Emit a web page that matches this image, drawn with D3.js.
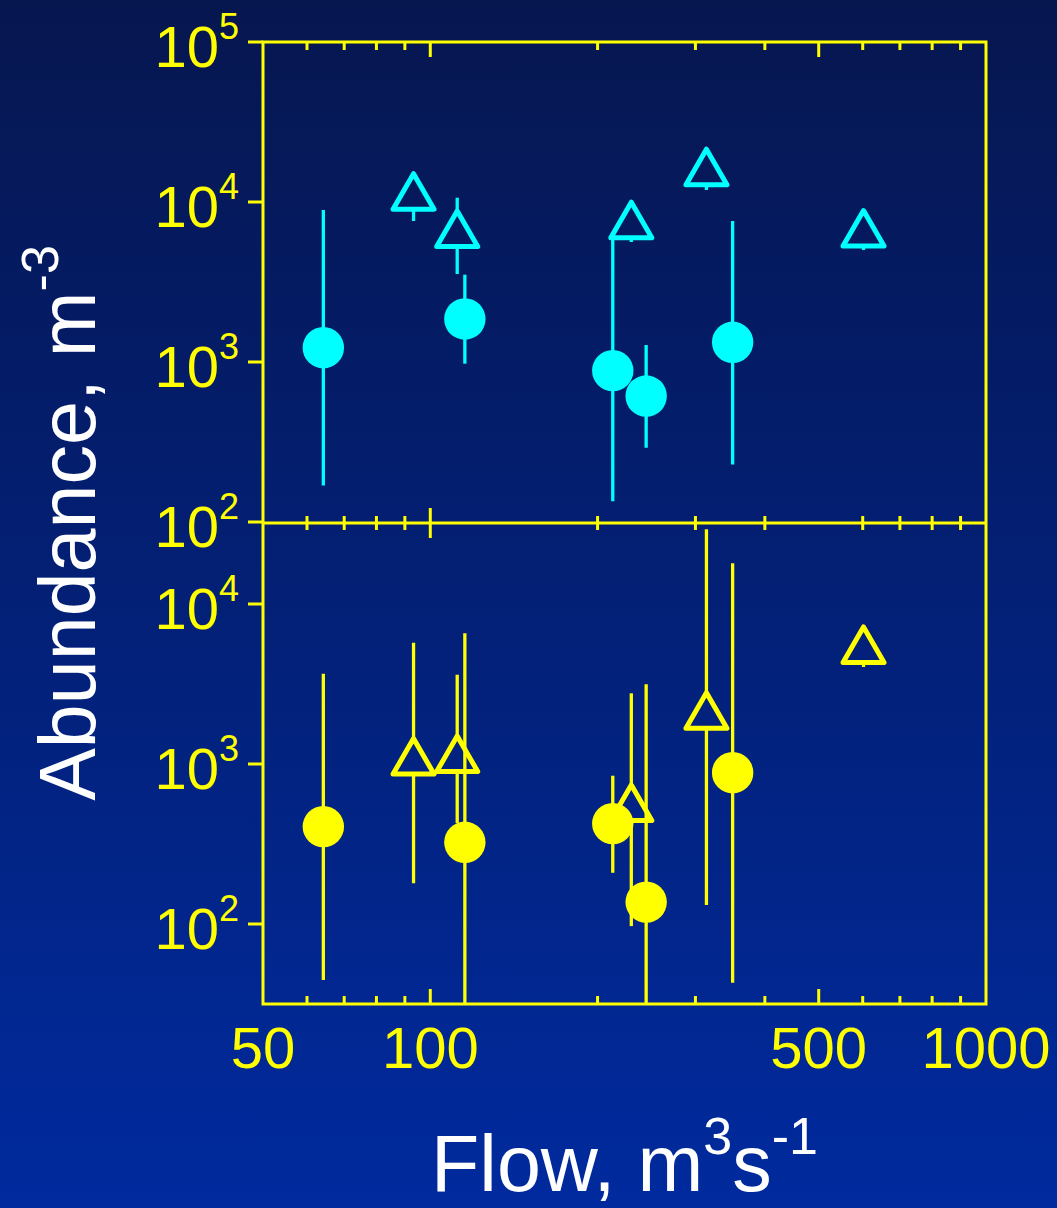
<!DOCTYPE html>
<html>
<head>
<meta charset="utf-8">
<script src="https://cdn.jsdelivr.net/npm/d3@7"></script>
<style>
  html, body { margin: 0; padding: 0; background: #021f78; }
  svg { display: block; }
  text { font-family: "Liberation Sans", Arial, sans-serif; }
</style>
</head>
<body>
<svg id="chart" width="1057" height="1208"></svg>
<script>
// Flow (m3 s-1) at each sampling occasion
const circleFlow   = [64.2, 115.4, 213, 244.6, 350];
const triangleFlow = [93.3, 111.8, 230, 314, 602];

// Upper panel (cyan): abundance, m-3, with error-bar limits
const topCircleValue = [1228, 1857, 883, 613, 1328];
const topCircleLow   = [169, 976, 135, 291, 229];
const topCircleHigh  = [8913, 3513, 5788, 1277, 7607];

const topTriangleValue = [11650, 6800, 7718, 16550, 6847];
const topTriangleLow   = [7607, 3548, 5623, 11885, 5012];
const topTriangleHigh  = [13500, 10640, 9000, 18000, 7500];

// Lower panel (yellow)
const bottomCircleValue = [406, 324, 424, 137, 882];
const bottomCircleLow   = [44.7, 30, 209, 30, 43];
const bottomCircleHigh  = [3666, 6560, 845, 3148, 17960];

const bottomTriangleValue = [1117, 1158, 572, 2160, 5566];
const bottomTriangleLow   = [180, 428, 97, 131.5, 4040];
const bottomTriangleHigh  = [5728, 3614, 2767, 29300, 6000];

// Axis ticks and labels
const xMinorTicks = [60, 70, 80, 90, 200, 300, 400, 600, 700, 800, 900];
const xEdgeMajorTicks = [100, 500];
const xMiddleMajorTicks = [100];
const xTickLabels = [50, 100, 500, 1000];
const topExponents = [5, 4, 3, 2];
const bottomExponents = [4, 3, 2];

const YELLOW = "#ffff00", CYAN = "#00ffff", WHITE = "#ffffff";

const svg = d3.select("#chart");
const defs = svg.append("defs");
const grad = defs.append("linearGradient")
  .attr("id", "bg").attr("gradientUnits", "userSpaceOnUse")
  .attr("x1", 0).attr("y1", 0).attr("x2", 0).attr("y2", 1208);
grad.append("stop").attr("offset", "0").attr("stop-color", "#06164f");
grad.append("stop").attr("offset", "1").attr("stop-color", "#002a9e");

svg.append("rect").attr("width", 1057).attr("height", 1208).attr("fill", "url(#bg)");

const x = d3.scaleLog().domain([50, 1000]).range([263, 986]);
const yTop = d3.scaleLog().domain([1e2, 1e5]).range([522, 42]).clamp(true);
const yBottom = d3.scaleLog().domain([Math.pow(10, 1.5), Math.pow(10, 4.5)]).range([1004, 524]).clamp(true);

const L = x.range()[0], R = x.range()[1];
const TOP = yTop.range()[1], MID = 523, BOT = yBottom.range()[0];

// Frame
const axes = svg.append("g").attr("stroke", YELLOW).attr("stroke-width", 3).attr("fill", "none");
axes.append("rect").attr("x", L).attr("y", TOP).attr("width", R - L).attr("height", BOT - TOP);
axes.append("line").attr("x1", L).attr("x2", R).attr("y1", MID).attr("y2", MID);

// X ticks: inward on top and bottom edges, crossing on the shared middle line
function xTicks(values, y1, y2) {
  axes.append("g").selectAll("line").data(values).join("line")
    .attr("x1", d => x(d)).attr("x2", d => x(d))
    .attr("y1", y1).attr("y2", y2);
}
xTicks(xMinorTicks, TOP, TOP + 8);
xTicks(xEdgeMajorTicks, TOP, TOP + 15);
xTicks(xMinorTicks, BOT, BOT - 8);
xTicks(xEdgeMajorTicks, BOT, BOT - 15);
xTicks(xMinorTicks, MID - 7, MID + 7);
xTicks(xMiddleMajorTicks, MID - 15, MID + 15);

// Y ticks: outward on the left
function yTicks(scale, exps) {
  axes.append("g").selectAll("line").data(exps).join("line")
    .attr("x1", L - 15).attr("x2", L)
    .attr("y1", e => scale(Math.pow(10, e))).attr("y2", e => scale(Math.pow(10, e)));
}
yTicks(yTop, topExponents);
yTicks(yBottom, bottomExponents);

// Y tick labels as powers of ten
function yLabels(scale, exps) {
  const t = svg.append("g").selectAll("text").data(exps).join("text")
    .attr("x", 239).attr("y", e => scale(Math.pow(10, e)) + 25)
    .attr("text-anchor", "end").attr("fill", YELLOW).attr("font-size", 58);
  t.append("tspan").text("10");
  t.append("tspan").attr("dy", -28).attr("font-size", 36).text(e => e);
}
yLabels(yTop, topExponents);
yLabels(yBottom, bottomExponents);

// X tick labels
svg.append("g").selectAll("text").data(xTickLabels).join("text")
  .attr("x", d => x(d)).attr("y", 1068)
  .attr("text-anchor", "middle").attr("fill", YELLOW).attr("font-size", 58)
  .text(d => d);

// Axis titles
const xt = svg.append("text").attr("x", (L + R) / 2).attr("y", 1191)
  .attr("text-anchor", "middle").attr("fill", WHITE).attr("font-size", 79);
xt.append("tspan").text("Flow, m");
xt.append("tspan").attr("dy", -37).attr("font-size", 52).text("3");
xt.append("tspan").attr("dy", 37).text("s");
xt.append("tspan").attr("dy", -37).attr("font-size", 52).text("-1");

const yt = svg.append("text").attr("transform", `translate(95,${MID}) rotate(-90)`)
  .attr("text-anchor", "middle").attr("fill", WHITE).attr("font-size", 79);
yt.append("tspan").text("Abundance, m");
yt.append("tspan").attr("dy", -37).attr("font-size", 52).text("-3");

// Data marks
function rows(flow, value, low, high) {
  return flow.map((f, i) => ({ f, v: value[i], lo: low[i], hi: high[i] }));
}
// Upward triangle in page coordinates, so the background gradient fill lines up
function triangle(cx, cy) {
  const s = 41, h = s * Math.sqrt(3) / 2;
  return `M${cx},${cy - h / 2}L${cx + s / 2},${cy + h / 2}L${cx - s / 2},${cy + h / 2}Z`;
}

function drawPanel(scale, color, circles, triangles) {
  const g = svg.append("g");
  // triangle series: bars then open triangles filled with the background
  g.append("g").selectAll("line").data(triangles).join("line")
    .attr("x1", d => x(d.f)).attr("x2", d => x(d.f))
    .attr("y1", d => scale(d.hi)).attr("y2", d => scale(d.lo))
    .attr("stroke", color).attr("stroke-width", 3.3);
  g.append("g").selectAll("path").data(triangles).join("path")
    .attr("d", d => triangle(x(d.f), scale(d.v)))
    .attr("fill", "url(#bg)").attr("stroke", color)
    .attr("stroke-width", 5).attr("stroke-linejoin", "round");
  // circle series on top
  g.append("g").selectAll("line").data(circles).join("line")
    .attr("x1", d => x(d.f)).attr("x2", d => x(d.f))
    .attr("y1", d => scale(d.hi)).attr("y2", d => scale(d.lo))
    .attr("stroke", color).attr("stroke-width", 3.3);
  g.append("g").selectAll("circle").data(circles).join("circle")
    .attr("cx", d => x(d.f)).attr("cy", d => scale(d.v)).attr("r", 20.7)
    .attr("fill", color);
}

drawPanel(yTop, CYAN,
  rows(circleFlow, topCircleValue, topCircleLow, topCircleHigh),
  rows(triangleFlow, topTriangleValue, topTriangleLow, topTriangleHigh));
drawPanel(yBottom, YELLOW,
  rows(circleFlow, bottomCircleValue, bottomCircleLow, bottomCircleHigh),
  rows(triangleFlow, bottomTriangleValue, bottomTriangleLow, bottomTriangleHigh));
</script>
</body>
</html>
